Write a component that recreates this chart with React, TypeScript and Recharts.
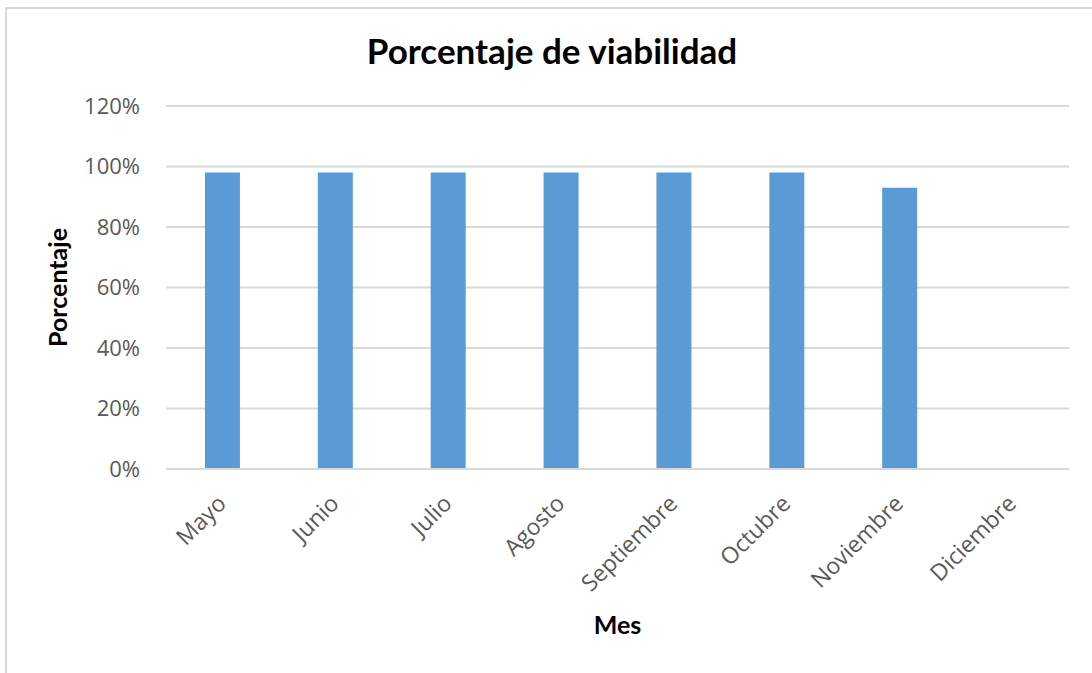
import React from "react";
import { BarChart, Bar, XAxis, YAxis, CartesianGrid, Label } from "recharts";

const months = ["Mayo", "Junio", "Julio", "Agosto", "Septiembre", "Octubre", "Noviembre", "Diciembre"];
const viability: (number | null)[] = [98, 98, 98, 98, 98, 98, 93, null];
const yTicks = [0, 20, 40, 60, 80, 100, 120];

const data = months.map((m, i) => ({ mes: m, valor: viability[i] }));

const TITLE_FONT = "Lato, 'Noto Sans', sans-serif";
const TICK_FONT = "'Open Sans', 'Noto Sans', sans-serif";

const XTick = (props: any) => {
  const { x, y, payload } = props;
  return (
    <g transform={`translate(${x + 5},${y + 28})`}>
      <text textAnchor="end" transform="rotate(-45)" fill="#595959" fontSize={23} fontFamily={TICK_FONT}>
        {payload.value}
      </text>
    </g>
  );
};

export default function App() {
  return (
    <div style={{ position: "absolute", left: 0, top: 0, width: 1092, height: 673, background: "#fff", overflow: "hidden" }}>
      <div style={{ position: "absolute", left: 5, top: 7, width: 1200, height: 800, border: "2px solid #d9d9d9" }} />
      <div style={{ position: "absolute", left: 0, top: 29, width: 1104, textAlign: "center", fontFamily: TITLE_FONT, fontWeight: 700, fontSize: 35, color: "#000" }}>
        Porcentaje de viabilidad
      </div>
      <div style={{ position: "absolute", left: 0, top: 0 }}>
        <BarChart width={1092} height={673} data={data} margin={{ top: 106, right: 23, left: 86, bottom: 54 }} barCategoryGap="34.5%">
          <CartesianGrid vertical={false} stroke="#d9d9d9" strokeWidth={2} />
          <XAxis dataKey="mes" height={150} tick={<XTick />} tickLine={false} axisLine={{ stroke: "#d9d9d9", strokeWidth: 2 }} interval={0}>
            <Label value="Mes" position="insideBottom" offset={-15} fill="#000" fontSize={25} fontWeight={700} fontFamily={TITLE_FONT} />
          </XAxis>
          <YAxis width={80} domain={[0, 120]} ticks={yTicks} tickFormatter={(v: number) => `${v}%`} axisLine={false} tickLine={false} tickMargin={20}
            tick={{ fill: "#595959", fontSize: 22, fontFamily: TICK_FONT }}>
            <Label value="Porcentaje" angle={-90} position="insideLeft" offset={-28} fill="#000" fontSize={25} fontWeight={700} fontFamily={TITLE_FONT} style={{ textAnchor: "middle" }} />
          </YAxis>
          <Bar dataKey="valor" fill="#5b9bd5" isAnimationActive={false} />
        </BarChart>
      </div>
    </div>
  );
}
